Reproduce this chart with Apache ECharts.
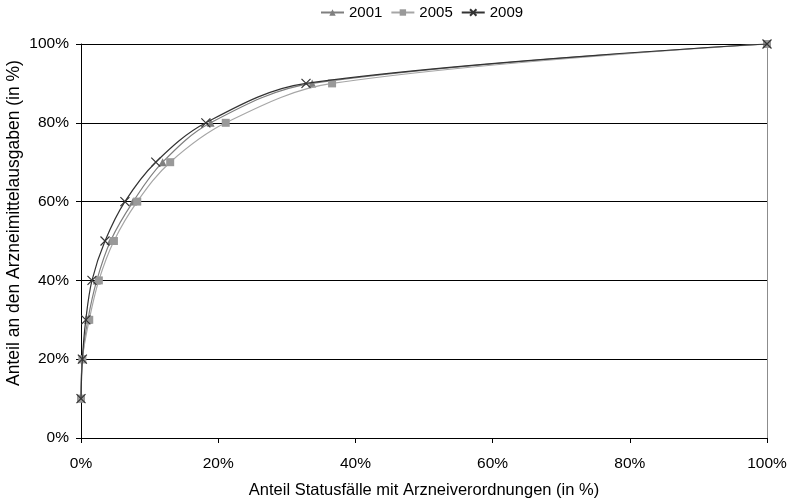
<!DOCTYPE html>
<html>
<head>
<meta charset="utf-8">
<script src="https://cdn.jsdelivr.net/npm/echarts@6/dist/echarts.min.js"></script>
<style>
  html, body { margin: 0; padding: 0; background: #fff; }
  #chart { width: 790px; height: 498px; }
</style>
</head>
<body>
<div id="chart"></div>
<script>
// Cumulative share of drug expenditure (y) vs. share of status cases with prescriptions (x), in %
const shareSpending = [10, 20, 30, 40, 50, 60, 70, 80, 90, 100];
const cases2001 = [0, 0.2, 1.0, 2.3, 4.3, 7.6, 11.9, 18.9, 33.7, 100];
const cases2005 = [0, 0.2, 1.2, 2.6, 4.8, 8.2, 13.0, 21.1, 36.6, 100];
const cases2009 = [0, 0.2, 0.7, 1.6, 3.5, 6.4, 10.9, 18.2, 32.8, 100];
const seriesNames = ['2001', '2005', '2009'];
const axisTicks = [0, 20, 40, 60, 80, 100];

const FONT = '"Liberation Sans", Arial, sans-serif';

function pairs(xs) {
  return xs.map((x, i) => [x, shareSpending[i]]);
}

const crossPath = 'path://M0,0L10,10M10,0L0,10';

const chart = echarts.init(document.getElementById('chart'), null, { renderer: 'canvas' });

chart.setOption({
  animation: false,
  backgroundColor: '#ffffff',
  textStyle: { fontFamily: FONT, color: '#000' },
  legend: {
    top: 5,
    left: 320,
    padding: 0,
    itemWidth: 23,
    itemHeight: 8,
    itemGap: 8,
    textStyle: { fontFamily: FONT, fontSize: 15, color: '#000' },
    data: seriesNames
  },
  grid: {
    left: 81, right: 23, top: 44, bottom: 60,
    containLabel: false,
    outerBoundsMode: 'none'
  },
  xAxis: {
    type: 'value',
    min: 0,
    max: 100,
    interval: 20,
    name: 'Anteil Statusfälle mit Arzneiverordnungen (in %)',
    nameLocation: 'middle',
    nameGap: 44,
    nameMoveOverlap: false,
    nameTextStyle: { fontFamily: FONT, fontSize: 16.5, color: '#000' },
    axisLine: { show: true, lineStyle: { color: '#000', width: 1 } },
    axisTick: { show: true, inside: false, length: 5, lineStyle: { color: '#000' } },
    axisLabel: {
      margin: 18,
      fontFamily: FONT,
      fontSize: 15.5,
      color: '#000',
      formatter: v => axisTicks.includes(v) ? v + '%' : ''
    },
    splitLine: { show: false }
  },
  yAxis: [{
    type: 'value',
    min: 0,
    max: 100,
    interval: 20,
    name: 'Anteil an den Arzneimittelausgaben (in %)',
    nameLocation: 'middle',
    nameGap: 58,
    nameMoveOverlap: false,
    nameTextStyle: { fontFamily: FONT, fontSize: 17.5, color: '#000', padding: [0, 0, 0, 36] },
    axisLine: { show: true, lineStyle: { color: '#000', width: 1 } },
    axisTick: { show: true, inside: false, length: 5, lineStyle: { color: '#000' } },
    axisLabel: {
      margin: 12,
      fontFamily: FONT,
      fontSize: 15.5,
      color: '#000',
      formatter: v => v + '%'
    },
    splitLine: { show: true, lineStyle: { color: '#000', width: 1 } }
  }, {
    type: 'value',
    min: 0,
    max: 100,
    position: 'right',
    axisLine: { show: true, lineStyle: { color: '#8c8c8c', width: 1 } },
    axisTick: { show: false },
    axisLabel: { show: false },
    splitLine: { show: false }
  }],
  series: [
    {
      name: '2001',
      type: 'line',
      smooth: 0.35,
      data: pairs(cases2001),
      symbol: 'triangle',
      symbolSize: 8,
      lineStyle: { color: '#7f7f7f', width: 1.2 },
      itemStyle: { color: '#7f7f7f' },
      z: 2
    },
    {
      name: '2005',
      type: 'line',
      smooth: 0.35,
      data: pairs(cases2005),
      symbol: 'rect',
      symbolSize: 8,
      lineStyle: { color: '#a6a6a6', width: 1.2 },
      itemStyle: { color: '#999999' },
      z: 3
    },
    {
      name: '2009',
      type: 'line',
      smooth: 0.35,
      data: pairs(cases2009),
      symbol: crossPath,
      symbolSize: 9,
      lineStyle: { color: '#333333', width: 1.2 },
      itemStyle: { color: 'transparent', borderColor: '#333333', borderWidth: 1.2 },
      z: 4
    }
  ]
});
</script>
</body>
</html>
